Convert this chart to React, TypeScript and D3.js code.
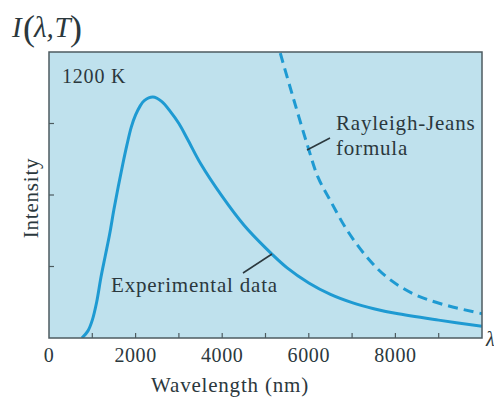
import React from "react";
import * as d3 from "d3";

const expWavelength = [760, 900, 1000, 1100, 1200, 1300, 1400, 1500, 1600, 1700, 1800, 1900, 2000, 2100, 2200, 2400, 2600, 2800, 3000, 3200, 3500, 4000, 4500, 5000, 5500, 6000, 6500, 7000, 7500, 8000, 9000, 10000];
const expIntensity = [0, 0.1, 0.25, 0.5, 0.85, 1.15, 1.45, 1.8, 2.12, 2.42, 2.7, 2.95, 3.12, 3.24, 3.32, 3.37, 3.31, 3.17, 3.0, 2.78, 2.44, 1.98, 1.58, 1.26, 0.98, 0.77, 0.61, 0.495, 0.41, 0.345, 0.25, 0.165];

const rjWavelength = [5250, 5335, 5635, 5982, 6212, 6490, 6882, 7344, 7806, 8406, 9099, 10000];
const rjIntensity = [4.2, 4.0, 3.37, 2.67, 2.25, 1.93, 1.51, 1.13, 0.85, 0.62, 0.47, 0.34];

const xTicks = [0, 2000, 4000, 6000, 8000];
const xMinorTicks = [1000, 2000, 3000, 4000, 5000, 6000, 7000, 8000, 9000];
const yTicks = [1, 2, 3];

const W = 494;
const H = 403;
const left = 49, right = 482, top = 52, bottom = 338;

const FONT = "Liberation Serif, Times New Roman, serif";
const TEXT = "#2b383d";
const FRAME = "#4d5b60";
const CURVE = "#1e9ad2";
const BG = "#bfe1ed";

export default function App() {
  const x = d3.scaleLinear().domain([0, 10000]).range([left, right]);
  const y = d3.scaleLinear().domain([0, 4]).range([bottom, top]);

  const expPts: [number, number][] = expWavelength.map((w, i) => [x(w), y(expIntensity[i])]);
  const rjPts: [number, number][] = rjWavelength.map((w, i) => [x(w), y(rjIntensity[i])]);
  const gen = d3.line().curve(d3.curveCatmullRom.alpha(0.5));

  return (
    <svg
      width={W}
      height={H}
      style={{ position: "absolute", left: 0, top: 0, display: "block", background: "#fff", fontFamily: FONT }}
    >
      <defs>
        <clipPath id="plot">
          <rect x={left} y={top} width={right - left} height={bottom - top} />
        </clipPath>
      </defs>
      <rect x={left} y={top} width={right - left} height={bottom - top} fill={BG} />
      <g clipPath="url(#plot)">
        <path d={gen(expPts) || ""} fill="none" stroke={CURVE} strokeWidth={3} />
        <path d={gen(rjPts) || ""} fill="none" stroke={CURVE} strokeWidth={3} strokeDasharray="10,6" />
      </g>
      {xMinorTicks.map((t) => (
        <line key={"xt" + t} x1={x(t)} x2={x(t)} y1={bottom} y2={bottom - 5} stroke={FRAME} strokeWidth={1.2} />
      ))}
      {yTicks.map((t) => (
        <line key={"yt" + t} x1={left} x2={left + 5} y1={y(t)} y2={y(t)} stroke={FRAME} strokeWidth={1.2} />
      ))}
      <rect x={left} y={top} width={right - left} height={bottom - top} fill="none" stroke={FRAME} strokeWidth={1.5} />
      {xTicks.map((t) => (
        <text key={"xl" + t} x={x(t)} y={362} textAnchor="middle" fontSize={20} fill={TEXT} letterSpacing={0.6}>
          {t}
        </text>
      ))}
      <text x={230} y={392} textAnchor="middle" fontSize={21} fill={TEXT} letterSpacing={0.8}>
        Wavelength (nm)
      </text>
      <text transform="translate(38, 198) rotate(-90)" textAnchor="middle" fontSize={21} fill={TEXT} letterSpacing={0.8}>
        Intensity
      </text>
      <text y={37} fill={TEXT}>
        <tspan x={12} fontSize={29} fontStyle="italic">I</tspan>
        <tspan x={23} fontSize={36} dy={3}>(</tspan>
        <tspan x={34} fontSize={29} fontStyle="italic" dy={-3}>λ,</tspan>
        <tspan x={54.5} fontSize={29} fontStyle="italic">T</tspan>
        <tspan x={70} fontSize={36} dy={3}>)</tspan>
      </text>
      <text x={62} y={83} fontSize={20} fill={TEXT} letterSpacing={0.8}>
        1200 K
      </text>
      <text x={336} y={130} fontSize={21} fill={TEXT} letterSpacing={0.8}>
        Rayleigh-Jeans
      </text>
      <text x={336} y={155} fontSize={21} fill={TEXT} letterSpacing={0.8}>
        formula
      </text>
      <line x1={330} y1={138} x2={307} y2={150} stroke={TEXT} strokeWidth={1.5} />
      <text x={111} y={292} fontSize={21} fill={TEXT} letterSpacing={0.8}>
        Experimental data
      </text>
      <line x1={243} y1={273} x2={272} y2={254} stroke={TEXT} strokeWidth={1.5} />
      <text x={486} y={346} fontSize={20} fill={TEXT} fontStyle="italic">
        λ
      </text>
    </svg>
  );
}
